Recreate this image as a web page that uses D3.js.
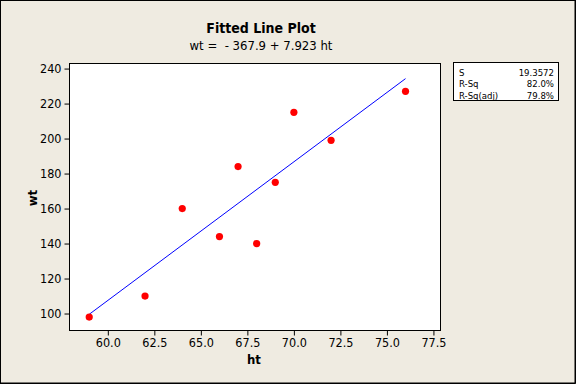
<!DOCTYPE html>
<html>
<head>
<meta charset="utf-8">
<script src="https://cdn.jsdelivr.net/npm/d3@7"></script>
<style>
  html, body { margin: 0; padding: 0; background: #efebe1; }
  svg { display: block; }
  text { font-family: "DejaVu Sans Condensed", "Liberation Sans", sans-serif; }
</style>
</head>
<body>
<div id="chart"></div>
<script>
// data
const ht = [59, 62, 64, 66, 67, 68, 69, 70, 72, 76];
const wt = [98, 110, 160, 144, 184, 140, 175, 215, 199, 227];
const xTicks = [60.0, 62.5, 65.0, 67.5, 70.0, 72.5, 75.0, 77.5];
const yTicks = [100, 120, 140, 160, 180, 200, 220, 240];
const fitCoef = [-367.9, 7.923];
const statLabels = ['S', 'R-Sq', 'R-Sq(adj)'];
const statValues = ['19.3572', '82.0%', '79.8%'];

const W = 576, H = 384;
const plot = { left: 69.5, right: 440.5, top: 63.5, bottom: 330.5 };
const FONT = '"DejaVu Sans Condensed", "Liberation Sans", sans-serif';

const svg = d3.select('#chart').append('svg')
    .attr('width', W)
    .attr('height', H);

svg.append('rect')
    .attr('x', 0).attr('y', 0).attr('width', W).attr('height', H)
    .attr('fill', '#efebe1');

// outer frame
svg.append('rect')
    .attr('x', 0.5).attr('y', 0.5).attr('width', W - 1.5).attr('height', H - 1.5)
    .attr('fill', 'none').attr('stroke', '#000').attr('stroke-width', 1);
svg.append('path')
    .attr('d', `M${W - 0.5},0V${H - 0.5}H0`)
    .attr('fill', 'none').attr('stroke', '#000').attr('stroke-width', 1);

const x = d3.scaleLinear().domain([57.94, 77.88]).range([plot.left, plot.right]);
const y = d3.scaleLinear().domain([90.3, 242.9]).range([plot.bottom, plot.top]);

// titles
svg.append('text')
    .attr('x', 261).attr('y', 33)
    .attr('text-anchor', 'middle')
    .style('font-size', '14px').style('font-weight', 'bold')
    .text('Fitted Line Plot');
svg.append('text')
    .attr('x', 261).attr('y', 49.5)
    .attr('text-anchor', 'middle')
    .style('font-size', '13px')
    .style('white-space', 'pre')
    .attr('xml:space', 'preserve')
    .text('wt =  - 367.9 + 7.923 ht');

// plot area
svg.append('rect')
    .attr('x', plot.left).attr('y', plot.top)
    .attr('width', plot.right - plot.left).attr('height', plot.bottom - plot.top)
    .attr('fill', '#fff').attr('stroke', '#000').attr('stroke-width', 1);

const xAxis = svg.append('g')
    .attr('transform', `translate(0,${plot.bottom})`)
    .call(d3.axisBottom(x).tickValues(xTicks).tickFormat(d3.format('.1f')).tickSize(5).tickPadding(3));
const yAxis = svg.append('g')
    .attr('transform', `translate(${plot.left},0)`)
    .call(d3.axisLeft(y).tickValues(yTicks).tickFormat(d3.format('d')).tickSize(5).tickPadding(3));
[xAxis, yAxis].forEach(g => {
    g.select('.domain').remove();
    g.selectAll('text').style('font-size', '12.5px').attr('fill', '#000')
        .style('font-family', FONT);
});

// axis titles
svg.append('text')
    .attr('x', 254).attr('y', 364)
    .attr('text-anchor', 'middle')
    .style('font-size', '13px').style('font-weight', 'bold')
    .text('ht');
svg.append('text')
    .attr('transform', 'translate(37,198) rotate(-90)')
    .attr('text-anchor', 'middle')
    .style('font-size', '13px').style('font-weight', 'bold')
    .text('wt');

// fitted line
const xMin = d3.min(ht), xMax = d3.max(ht);
svg.append('line')
    .attr('x1', x(xMin)).attr('y1', y(fitCoef[0] + fitCoef[1] * xMin))
    .attr('x2', x(xMax)).attr('y2', y(fitCoef[0] + fitCoef[1] * xMax))
    .attr('stroke', '#0000ff').attr('stroke-width', 1);

// points
svg.append('g')
    .selectAll('circle')
    .data(ht.map((h, i) => ({ h, w: wt[i] })))
    .enter()
    .append('circle')
    .attr('cx', d => x(d.h))
    .attr('cy', d => y(d.w))
    .attr('r', 3.6)
    .attr('fill', '#ff0000');

// stats box
const box = svg.append('g');
box.append('rect')
    .attr('x', 453.5).attr('y', 62.5).attr('width', 105).attr('height', 38)
    .attr('fill', '#fff').attr('stroke', '#000').attr('stroke-width', 1);
statLabels.forEach((lab, i) => {
    box.append('text')
        .attr('x', 459).attr('y', 75.5 + i * 11.5)
        .style('font-size', '9.5px')
        .text(lab);
    box.append('text')
        .attr('x', 554).attr('y', 75.5 + i * 11.5)
        .attr('text-anchor', 'end')
        .style('font-size', '9.5px')
        .text(statValues[i]);
});
</script>
</body>
</html>
